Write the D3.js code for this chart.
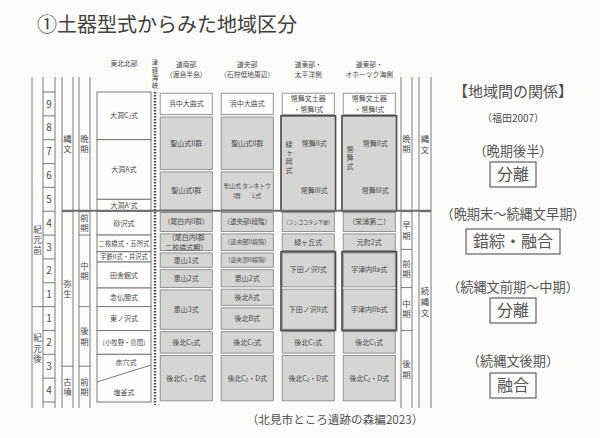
<!DOCTYPE html>
<html><head><meta charset="utf-8">
<script src="https://cdn.jsdelivr.net/npm/d3@7"></script>
<style>
body{margin:0;background:#fbfbf9}
svg{display:block}
text{font-family:"Noto Sans CJK JP","Noto Sans",sans-serif;fill:#4a4a4a}
</style>
</head><body>
<svg id="c" width="600" height="438"></svg>
<script>
// ---------- data ----------
const titleText = "①土器型式からみた地域区分";
const sourceText = "（北見市ところ遺跡の森編2023）";
const centuryLabels = ["9","8","7","6","5","4","3","2","1","1","2","3","4"];
const centuryStarts = [-900,-800,-700,-600,-500,-400,-300,-200,-100,0,100,200,300];
const kigenLabels = [{name:"紀元前", at:-280},{name:"紀元後", at:175}];
const eraLeft = [{name:"縄文",from:-963,to:-400},{name:"弥生",from:-400,to:250},{name:"古墳",from:250,to:425}];
const subLeft = [{name:"晩期",from:-963,to:-400},{name:"前期",from:-400,to:-300},{name:"中期",from:-300,to:0},{name:"後期",from:0,to:250},{name:"前期",from:250,to:425}];
const eraRight = [{name:"縄文",from:-963,to:-400},{name:"続縄文",from:-400,to:425}];
const subRight = [{name:"晩期",from:-963,to:-400},{name:"早期",from:-400,to:-240},{name:"前期",from:-240,to:-80},{name:"中期",from:-80,to:100},{name:"後期",from:100,to:425}];

const tohokuName = "東北北部";
const tohokuTypes = [
  {label:"大洞C₂式", from:-900, to:-700},
  {label:"大洞A式", from:-700, to:-450},
  {label:"大洞A'式", from:-450, to:-400},
  {label:"砂沢式", from:-400, to:-300},
  {label:"二枚橋式・五所式", from:-300, to:-230},
  {label:"宇鉄II式・井沢式", from:-230, to:-187},
  {label:"田舎館式", from:-187, to:-78},
  {label:"念仏間式", from:-78, to:0},
  {label:"東ノ沢式", from:0, to:100},
  {label:"（小牧野・鳥間）", from:100, to:200}
];
const tohokuSplit = {upper:"赤穴式", lower:"塩釜式", from:200, to:400, leftYear:316, rightYear:245};
const straitName = "津軽海峡";

const regions = ["道南部","道央部","道東部・太平洋側","道東部・オホーツク海側"];
const regionHeads = [["道南部","（渡島半島）"],["道央部","（石狩低地周辺）"],["道東部・","太平洋側"],["道東部・","オホーツク海側"]];
const donanCells = [
  {label:"浜中大曲式", from:-900, to:-800},
  {label:"聖山式II群", from:-800, to:-570},
  {label:"聖山式I群", from:-570, to:-400},
  {label:"（尾白内II群）", from:-400, to:-310},
  {label:"（尾白内I群\n二枚橋式期）", from:-310, to:-230},
  {label:"恵山1式", from:-230, to:-160},
  {label:"恵山2式", from:-160, to:-75},
  {label:"恵山3式", from:-75, to:100},
  {label:"後北C₁式", from:100, to:200},
  {label:"後北C₂・D式", from:200, to:400}
];
const dooCells = [
  {label:"浜中大曲式", from:-900, to:-800},
  {label:"聖山式II群", from:-800, to:-570},
  {label:"聖山式 タンネトウ\nI群　　L式", from:-570, to:-400},
  {label:"（道央部I段階）", from:-400, to:-310},
  {label:"（道央部II段階）", from:-310, to:-230},
  {label:"（道央部III段階）", from:-230, to:-160},
  {label:"恵山2式", from:-160, to:-78},
  {label:"後北A式", from:-78, to:0},
  {label:"後北B式", from:0, to:100},
  {label:"後北C₁式", from:100, to:200},
  {label:"後北C₂・D式", from:200, to:400}
];
const taiheiyoCells = [
  {label:"幣舞文土器\n・幣舞I式", from:-900, to:-800},
  {label:"幣舞II式", from:-800, to:-570},
  {label:"幣舞III式", from:-570, to:-400},
  {label:"（フシココタン下層）", from:-400, to:-310},
  {label:"緑ヶ丘式", from:-310, to:-230},
  {label:"下田ノ沢I式", from:-230, to:-78},
  {label:"下田ノ沢II式", from:-78, to:100},
  {label:"後北C₁式", from:100, to:200},
  {label:"後北C₂・D式", from:200, to:400}
];
const okhotskCells = [
  {label:"幣舞文土器\n・幣舞I式", from:-900, to:-800},
  {label:"幣舞II式", from:-800, to:-570},
  {label:"幣舞III式", from:-570, to:-400},
  {label:"（栄浦第二）", from:-400, to:-310},
  {label:"元町2式", from:-310, to:-230},
  {label:"宇津内IIa式", from:-230, to:-78},
  {label:"宇津内IIb式", from:-78, to:100},
  {label:"後北C₁式", from:100, to:200},
  {label:"後北C₂・D式", from:200, to:400}
];
const regionCells = [donanCells, dooCells, taiheiyoCells, okhotskCells];
const regionGroups = [
  [],
  [],
  [{from:-800,to:-400,vlabel:"緑ヶ岡式"},{from:-230,to:100}],
  [{from:-800,to:-400,vlabel:"幣舞式"},{from:-230,to:100}]
];

const relationTitle = "【地域間の関係】";
const relationCite = "（福田2007）";
const relations = [
  {period:"（晩期後半）", relation:"分離"},
  {period:"（晩期末〜続縄文早期）", relation:"錯綜・融合"},
  {period:"（続縄文前期〜中期）", relation:"分離"},
  {period:"（続縄文後期）", relation:"融合"}
];

// ---------- drawing ----------
const svg = d3.select("#c");
const y = d3.scaleLinear().domain([-900, 400]).range([92, 402]);
const TOP = -963, BOT = 425;
const LINE = "#6e6e6e";

function units(s){ let u=0; for(const ch of s){ u += /[\x20-\x7e₁₂]/.test(ch) ? 0.58 : 1; } return u; }
function fitSize(lines, w, base){ const m = d3.max(lines, units); return Math.min(base, (w-3)/m); }
function htext(g, str, x, yc, base, w, lhf){
  const lines = str.split("\n");
  const fs = w ? fitSize(lines, w, base) : base;
  const lh = fs*(lhf||1.45);
  lines.forEach((l,i)=>{
    g.append("text").attr("x",x)
      .attr("y", yc + (i-(lines.length-1)/2)*lh + fs*0.36)
      .attr("text-anchor","middle").attr("font-size",fs)
      .style("white-space","pre").text(l);
  });
}
// vertical text as one element (vertical writing mode)
function vtext(g, str, x, yc, fs, gap){
  const sp = fs*((gap||1.22)-1);
  g.append("text").attr("x",x).attr("y",yc + sp/2)
    .attr("text-anchor","middle").attr("font-size",fs)
    .style("writing-mode","vertical-rl").style("letter-spacing", sp+"px")
    .text(str);
}
function hline(g,x1,x2,yy,w){ g.append("line").attr("x1",x1).attr("x2",x2).attr("y1",yy).attr("y2",yy).attr("stroke",LINE).attr("stroke-width",w||0.9); }
function vline(g,xx,y1,y2,w){ g.append("line").attr("x1",xx).attr("x2",xx).attr("y1",y1).attr("y2",y2).attr("stroke",LINE).attr("stroke-width",w||0.9); }

// title
svg.append("text").attr("x",37).attr("y",32).attr("font-size",20).style("fill","#404040").text(titleText);

const g = svg.append("g");

// left columns
[32,43,55,62,73,79,90].forEach(xx=>vline(g,xx,y(TOP),y(BOT)));
hline(g,32,43,y(0));
kigenLabels.forEach(k=>vtext(g,k.name,37.5,y(k.at),8.6));
centuryStarts.forEach((s,i)=>{
  hline(g,43,55,y(s));
  g.append("text").attr("x",49).attr("y",(y(s)+y(s+100))/2+3.6).attr("text-anchor","middle").attr("font-size",10).text(centuryLabels[i]);
});
hline(g,43,55,y(400));
eraLeft.forEach((e,i)=>{ if(i>0) hline(g,62,73,y(e.from), e.from===-400?1.8:0.9); vtext(g,e.name,67.5,(y(e.from)+y(e.to))/2,8.4); });
subLeft.forEach((e,i)=>{ if(i>0) hline(g,79,90,y(e.from), e.from===-400?1.8:0.9); vtext(g,e.name,84.5,(y(e.from)+y(e.to))/2,8.4); });

// right columns
[401,412,419,431].forEach(xx=>vline(g,xx,y(TOP),y(BOT)));
subRight.forEach((e,i)=>{ if(i>0) hline(g,401,412,y(e.from), e.from===-400?1.8:0.9); vtext(g,e.name,406.5,(y(e.from)+y(e.to))/2,8.4); });
eraRight.forEach((e,i)=>{ if(i>0) hline(g,419,431,y(e.from), 1.8); vtext(g,e.name,425,(y(e.from)+y(e.to))/2 - (i?8:0),8.4,1.3); });

// Tohoku column
const tx0 = 97, tx1 = 151, tw = tx1-tx0;
g.append("text").attr("x",124).attr("y",66).attr("text-anchor","middle").attr("font-size",6.8).text(tohokuName);
tohokuTypes.forEach(c=>{
  g.append("rect").attr("x",tx0).attr("y",y(c.from)).attr("width",tw).attr("height",y(c.to)-y(c.from))
   .attr("fill","#fdfdfc").attr("stroke",LINE).attr("stroke-width",0.9);
  htext(g,c.label,(tx0+tx1)/2,(y(c.from)+y(c.to))/2,7,tw);
});
g.append("rect").attr("x",tx0).attr("y",y(tohokuSplit.from)).attr("width",tw).attr("height",y(tohokuSplit.to)-y(tohokuSplit.from))
  .attr("fill","#fdfdfc").attr("stroke",LINE).attr("stroke-width",0.9);
g.append("line").attr("x1",tx0).attr("x2",tx1).attr("y1",y(tohokuSplit.leftYear)).attr("y2",y(tohokuSplit.rightYear)).attr("stroke",LINE).attr("stroke-width",0.9);
htext(g,tohokuSplit.upper,(tx0+tx1)/2+2,y(245)-3,7,tw);
htext(g,tohokuSplit.lower,(tx0+tx1)/2,y(362),7,tw);

// strait dotted line
g.append("line").attr("x1",155).attr("x2",155).attr("y1",92).attr("y2",405)
  .attr("stroke","#444").attr("stroke-width",2.4).attr("stroke-dasharray","1.4,1.6");
vtext(g,straitName,155,74,6.4);

// Hokkaido columns
const xb = d3.scaleBand().domain(regions).range([159,396.5]).paddingInner(0.107);
const GRAY = "#d5d5d3";
regions.forEach((r,i)=>{
  const x0 = xb(r), w = xb.bandwidth(), cx = x0+w/2;
  htext(g, regionHeads[i].join("\n"), cx, 69.5, 6.8, 0, 1.6);
  const groups = regionGroups[i];
  groups.filter(gr=>gr.vlabel).forEach(gr=>{
    g.append("rect").attr("x",x0+0.8).attr("y",y(gr.from)+0.8).attr("width",w-1.6).attr("height",y(gr.to)-y(gr.from)-1.6)
      .attr("fill",GRAY).attr("stroke","none");
    vtext(g, gr.vlabel, x0+8, (y(gr.from)+y(gr.to))/2-6, 7);
  });
  regionCells[i].forEach(c=>{
    const inV = groups.find(gr=>gr.vlabel && c.from>=gr.from && c.to<=gr.to);
    const y0 = y(c.from), y1 = y(c.to);
    if(!inV){
      g.append("rect").attr("x",x0+1.2).attr("y",y0+1.2).attr("width",w-2.4).attr("height",y1-y0-2.4)
        .attr("fill", c.from===-900 ? "#fdfdfc" : GRAY).attr("stroke","#8a8a8a").attr("stroke-width",0.9);
      htext(g,c.label,cx,(y0+y1)/2,7,w-2, (y1-y0)>30 ? 1.6 : 1.45);
    } else {
      htext(g,c.label,cx+6,(y0+y1)/2,7,w-14);
    }
  });
  groups.forEach(gr=>{
    g.append("rect").attr("x",x0).attr("y",y(gr.from)).attr("width",w).attr("height",y(gr.to)-y(gr.from))
      .attr("fill","none").attr("stroke","#4d4d4d").attr("stroke-width",1.7);
  });
});

// thick boundary line (Jomon / Yayoi-Zokujomon)
hline(g,62,431,y(-400)-0.5,1.8);

// right panel
const rp = svg.append("g");
const rcx = 513;
rp.append("text").attr("x",rcx).attr("y",97).attr("text-anchor","middle").attr("font-size",15).style("fill","#505050").text(relationTitle);
rp.append("text").attr("x",rcx).attr("y",122).attr("text-anchor","middle").attr("font-size",10).style("fill","#505050").text(relationCite);
const periodY = [156, 219, 292, 366];
const boxY = [162, 229, 298, 373];
relations.forEach((r,i)=>{
  rp.append("text").attr("x",rcx).attr("y",periodY[i]).attr("text-anchor","middle").attr("font-size",13.2).style("fill","#555").text(r.period);
  const n = [...r.relation].length;
  const bw = n*16 + 14, bh = 25;
  rp.append("rect").attr("x",rcx-bw/2).attr("y",boxY[i]).attr("width",bw).attr("height",bh)
    .attr("fill","none").attr("stroke","#555").attr("stroke-width",1.1);
  rp.append("text").attr("x",rcx).attr("y",boxY[i]+18).attr("text-anchor","middle").attr("font-size",16).style("fill","#555").text(r.relation);
});

// source
svg.append("text").attr("x",335).attr("y",424).attr("text-anchor","middle").attr("font-size",11.6).style("fill","#505050").text(sourceText);
</script>
</body></html>
